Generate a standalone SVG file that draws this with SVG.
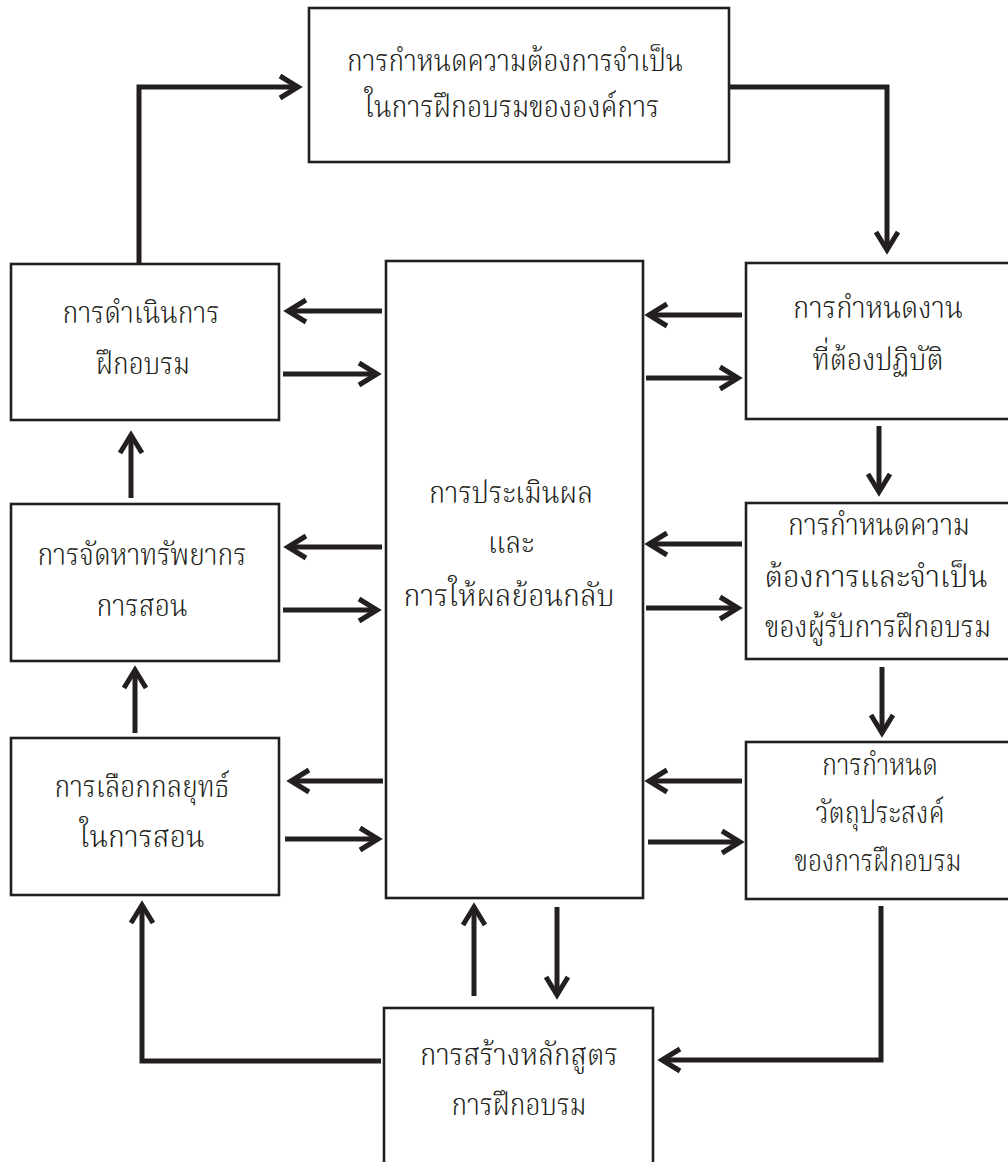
<svg xmlns="http://www.w3.org/2000/svg" width="1008" height="1162" viewBox="0 0 1008 1162">
  <style>
    .box { fill: #ffffff; stroke: #231f20; stroke-width: 2.6; }
    .lbl { font-family: "Noto Serif Thai", "Noto Sans Thai", "Noto Sans", "DejaVu Sans", sans-serif; font-size: 31px; font-weight: 300; fill: #231f20; text-anchor: middle; }
    .wire { fill: none; stroke: #231f20; stroke-width: 5; stroke-linejoin: miter; marker-end: url(#chev); }
  </style>
  <defs>
    <!-- open chevron head; the path end sits 5px behind the visible point -->
    <marker id="chev" viewBox="-22 -14 30 28" refX="0" refY="0" markerWidth="30" markerHeight="28" markerUnits="userSpaceOnUse" orient="auto">
      <path d="M-18,-11 L0,0 L-18,11" fill="none" stroke="#231f20" stroke-width="5" stroke-linejoin="miter" stroke-miterlimit="10"/>
    </marker>
  </defs>
  <rect width="1008" height="1162" fill="#ffffff"/>

  <g id="connectors">
    <!-- outer loop -->
    <path class="wire" d="M139,264 V87 H298"/>
    <path class="wire" d="M730,87 H887 V250"/>
    <path class="wire" d="M879,426 V492"/>
    <path class="wire" d="M882,667 V733"/>
    <path class="wire" d="M881,906 V1060 H662"/>
    <path class="wire" d="M381,1061 H142 V905"/>
    <path class="wire" d="M135,733 V670"/>
    <path class="wire" d="M131,498 V435"/>
    <!-- centre to and from the curriculum box -->
    <path class="wire" d="M557,907 V995"/>
    <path class="wire" d="M474,996 V907"/>
    <!-- left column exchanges -->
    <path class="wire" d="M382,311 H288"/>
    <path class="wire" d="M283,374 H377"/>
    <path class="wire" d="M382,547 H288"/>
    <path class="wire" d="M283,610 H377"/>
    <path class="wire" d="M383,781 H291"/>
    <path class="wire" d="M285,839 H378"/>
    <!-- right column exchanges -->
    <path class="wire" d="M742,315 H649"/>
    <path class="wire" d="M646,378 H738"/>
    <path class="wire" d="M742,544 H649"/>
    <path class="wire" d="M646,608 H738"/>
    <path class="wire" d="M742,781 H649"/>
    <path class="wire" d="M648,842 H740"/>
  </g>

  <g id="needs-org">
    <rect class="box" x="309" y="8" width="420" height="154"/>
    <text class="lbl" x="515" y="71" textLength="336" lengthAdjust="spacingAndGlyphs">การกำหนดความต้องการจำเป็น</text>
    <text class="lbl" x="512" y="117" textLength="295" lengthAdjust="spacingAndGlyphs">ในการฝึกอบรมขององค์การ</text>
  </g>

  <g id="conduct">
    <rect class="box" x="11" y="264" width="268" height="156"/>
    <text class="lbl" x="141" y="323" textLength="157" lengthAdjust="spacingAndGlyphs">การดำเนินการ</text>
    <text class="lbl" x="143" y="374" textLength="94" lengthAdjust="spacingAndGlyphs">ฝึกอบรม</text>
  </g>

  <g id="resources">
    <rect class="box" x="11" y="504" width="268" height="157"/>
    <text class="lbl" x="142" y="565" textLength="209" lengthAdjust="spacingAndGlyphs">การจัดหาทรัพยากร</text>
    <text class="lbl" x="142" y="616" textLength="91" lengthAdjust="spacingAndGlyphs">การสอน</text>
  </g>

  <g id="strategy">
    <rect class="box" x="11" y="738" width="268" height="157"/>
    <text class="lbl" x="142" y="797" textLength="175" lengthAdjust="spacingAndGlyphs">การเลือกกลยุทธ์</text>
    <text class="lbl" x="142" y="847" textLength="125" lengthAdjust="spacingAndGlyphs">ในการสอน</text>
  </g>

  <g id="evaluation">
    <rect class="box" x="386" y="261" width="257" height="637"/>
    <text class="lbl" x="511" y="503" textLength="164" lengthAdjust="spacingAndGlyphs">การประเมินผล</text>
    <text class="lbl" x="511" y="553" textLength="46" lengthAdjust="spacingAndGlyphs">และ</text>
    <text class="lbl" x="509" y="606" textLength="211" lengthAdjust="spacingAndGlyphs">การให้ผลย้อนกลับ</text>
  </g>

  <g id="tasks">
    <rect class="box" x="746" y="263" width="280" height="156"/>
    <text class="lbl" x="878" y="318" textLength="170" lengthAdjust="spacingAndGlyphs">การกำหนดงาน</text>
    <text class="lbl" x="878" y="370" textLength="131" lengthAdjust="spacingAndGlyphs">ที่ต้องปฏิบัติ</text>
  </g>

  <g id="trainee-needs">
    <rect class="box" x="746" y="503" width="280" height="156"/>
    <text class="lbl" x="879" y="535" textLength="182" lengthAdjust="spacingAndGlyphs">การกำหนดความ</text>
    <text class="lbl" x="876" y="587" textLength="223" lengthAdjust="spacingAndGlyphs">ต้องการและจำเป็น</text>
    <text class="lbl" x="878" y="637" textLength="226" lengthAdjust="spacingAndGlyphs">ของผู้รับการฝึกอบรม</text>
  </g>

  <g id="objectives">
    <rect class="box" x="746" y="742" width="280" height="157"/>
    <text class="lbl" x="880" y="775" textLength="116" lengthAdjust="spacingAndGlyphs">การกำหนด</text>
    <text class="lbl" x="880" y="823" textLength="129" lengthAdjust="spacingAndGlyphs">วัตถุประสงค์</text>
    <text class="lbl" x="878" y="871" textLength="167" lengthAdjust="spacingAndGlyphs">ของการฝึกอบรม</text>
  </g>

  <g id="curriculum">
    <rect class="box" x="384" y="1008" width="269" height="170"/>
    <text class="lbl" x="519" y="1065" textLength="198" lengthAdjust="spacingAndGlyphs">การสร้างหลักสูตร</text>
    <text class="lbl" x="519" y="1115" textLength="135" lengthAdjust="spacingAndGlyphs">การฝึกอบรม</text>
  </g>
</svg>
